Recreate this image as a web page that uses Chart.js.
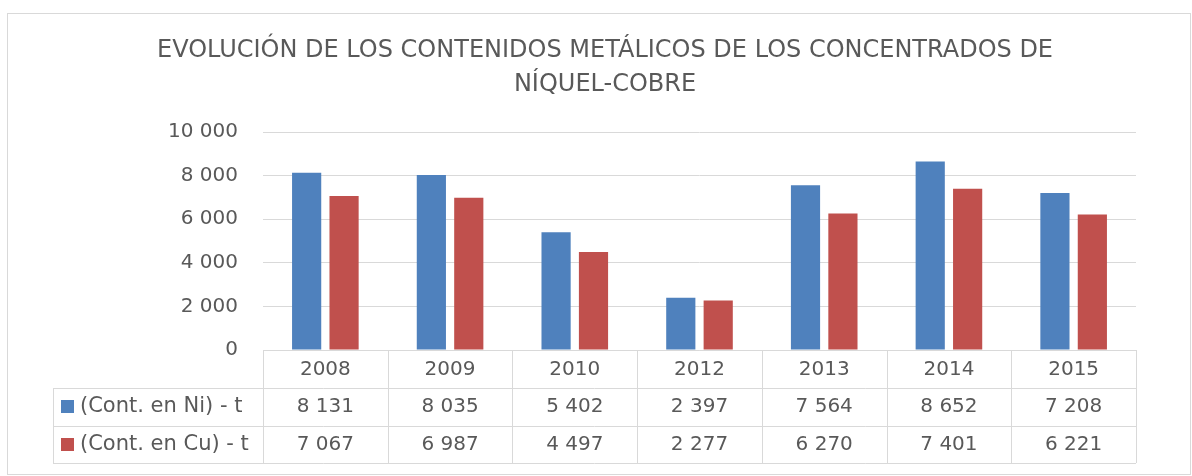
<!DOCTYPE html>
<html>
<head>
<meta charset="utf-8">
<script src="https://cdn.jsdelivr.net/npm/chart.js@4"></script>
<style>
  html, body { margin: 0; padding: 0; background: #fff; }
  #wrap { width: 1192px; height: 476px; }
</style>
</head>
<body>
<div id="wrap"><canvas id="grafico"></canvas></div>
<script>
const anios = ["2008", "2009", "2010", "2012", "2013", "2014", "2015"];
const contNi = [8131, 8035, 5402, 2397, 7564, 8652, 7208];
const contCu = [7067, 6987, 4497, 2277, 6270, 7401, 6221];
const nombreNi = "(Cont. en Ni) - t";
const nombreCu = "(Cont. en Cu) - t";
const ticksY = [0, 2000, 4000, 6000, 8000, 10000];

const azul = "#4F81BD";
const rojo = "#C0504D";
const gris = "#595959";
const linea = "#D9D9D9";
const fuente = "DejaVu Sans";

function formato(v) {
  // separador de miles con espacio
  return String(v).replace(/\B(?=(\d{3})+(?!\d))/g, " ");
}

// dibuja el marco y la tabla de datos debajo del grafico
const tablaPlugin = {
  id: "tablaDatos",
  beforeDraw(chart) {
    const ctx = chart.ctx;
    ctx.save();
    ctx.strokeStyle = linea;
    ctx.lineWidth = 1;
    ctx.strokeRect(7.5, 13.5, 1183, 461);
    ctx.restore();
  },
  afterDraw(chart) {
    const ctx = chart.ctx;
    const x = chart.scales.x;
    const area = chart.chartArea;
    const top = area.bottom;
    const fila1 = top + 38;
    const fila2 = fila1 + 38;
    const fin = fila2 + 37;
    const izq = 53;
    const paso = (area.right - area.left) / anios.length;

    ctx.save();
    ctx.strokeStyle = linea;
    ctx.lineWidth = 1;
    ctx.beginPath();
    ctx.moveTo(area.left, top + 0.5);
    ctx.lineTo(area.right, top + 0.5);
    [fila1, fila2, fin].forEach(function (y) {
      ctx.moveTo(izq, y + 0.5);
      ctx.lineTo(area.right, y + 0.5);
    });
    ctx.moveTo(izq + 0.5, fila1);
    ctx.lineTo(izq + 0.5, fin);
    for (let i = 0; i <= anios.length; i++) {
      const xx = Math.round(area.left + paso * i) + 0.5;
      ctx.moveTo(xx, top);
      ctx.lineTo(xx, fin);
    }
    ctx.stroke();

    ctx.fillStyle = gris;
    ctx.textBaseline = "middle";
    const filas = [
      { nombre: nombreNi, color: azul, datos: contNi, y: (fila1 + fila2) / 2 },
      { nombre: nombreCu, color: rojo, datos: contCu, y: (fila2 + fin) / 2 },
    ];
    filas.forEach(function (f) {
      ctx.fillStyle = f.color;
      ctx.fillRect(61, Math.round(f.y) - 7, 13, 13);
      ctx.fillStyle = gris;
      ctx.textAlign = "left";
      ctx.font = "21px '" + fuente + "'";
      ctx.fillText(f.nombre, 80, f.y);
      ctx.textAlign = "center";
      ctx.font = "20px '" + fuente + "'";
      f.datos.forEach(function (v, i) {
        ctx.fillText(formato(v), x.getPixelForValue(i), f.y);
      });
    });
    ctx.restore();
  },
};

const config = {
  type: "bar",
  data: {
    labels: anios,
    datasets: [
      {
        label: nombreNi,
        data: contNi,
        backgroundColor: azul,
        categoryPercentage: 0.6,
        barPercentage: 0.78,
      },
      {
        label: nombreCu,
        data: contCu,
        backgroundColor: rojo,
        categoryPercentage: 0.6,
        barPercentage: 0.78,
      },
    ],
  },
  options: {
    responsive: true,
    maintainAspectRatio: false,
    animation: false,
    layout: {
      padding: { left: 74, right: 56, top: 14, bottom: 88 },
    },
    plugins: {
      legend: { display: false },
      tooltip: { enabled: false },
      title: {
        display: true,
        text: [
          "EVOLUCIÓN DE LOS CONTENIDOS METÁLICOS DE LOS CONCENTRADOS DE",
          "NÍQUEL-COBRE",
        ],
        color: gris,
        font: { family: fuente, size: 24, weight: "normal", lineHeight: 1.42 },
        padding: { top: 20, bottom: 30 },
      },
    },
    scales: {
      x: {
        grid: { display: false, drawTicks: false },
        border: { display: false },
        ticks: {
          color: gris,
          padding: 8,
          font: { family: fuente, size: 20 },
        },
        afterFit(scale) {
          scale.height = 38;
        },
      },
      y: {
        min: 0,
        max: 10000,
        afterBuildTicks(scale) {
          scale.ticks = ticksY.map((v) => ({ value: v }));
        },
        grid: { color: linea, drawTicks: false },
        border: { display: false },
        ticks: {
          color: gris,
          padding: 25,
          font: { family: fuente, size: 20 },
          callback: (v) => formato(v),
        },
        afterFit(scale) {
          scale.width = 189;
        },
      },
    },
  },
  plugins: [tablaPlugin],
};

new Chart(document.getElementById("grafico"), config);
</script>
</body>
</html>
